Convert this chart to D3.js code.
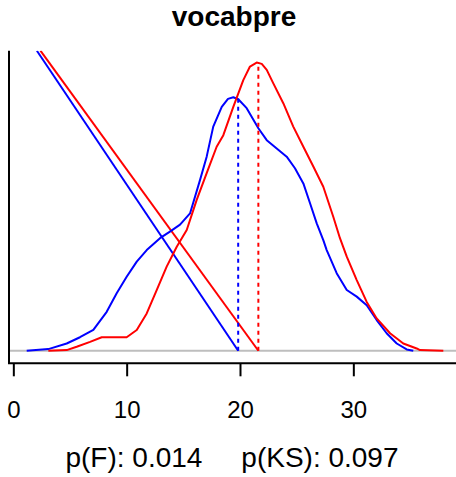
<!DOCTYPE html>
<html>
<head>
<meta charset="utf-8">
<script src="https://cdn.jsdelivr.net/npm/d3@7"></script>
<style>
  html, body { margin: 0; padding: 0; background: #fff; }
  svg { display: block; }
  text { font-family: "Liberation Sans", Arial, Helvetica, sans-serif; }
</style>
</head>
<body>
<svg id="chart" width="456" height="477"></svg>
<script>
// ---- data ----
const title = "vocabpre";
const subtitle = "p(F): 0.014     p(KS): 0.097";
const xTicks = [0, 10, 20, 30];

// density of group 1 (blue): [x, density]
const blueX = [1.18, 3.09, 4.71, 5.88, 7.06, 8.24, 9.12, 10.0, 10.89, 11.77, 12.94, 13.82, 14.71, 15.59, 16.47, 17.06, 17.64, 18.39, 18.94, 19.41, 19.85, 20.59, 21.62, 22.36, 23.24, 24.12, 24.85, 25.59, 26.18, 26.77, 27.35, 27.65, 28.53, 29.42, 30.30, 31.18, 32.06, 32.94, 33.83, 34.71, 35.29];
const blueY = [0, 0.0005, 0.0022, 0.0041, 0.0063, 0.0118, 0.0174, 0.0224, 0.0270, 0.0305, 0.0341, 0.0361, 0.0382, 0.0416, 0.0517, 0.0588, 0.0679, 0.0739, 0.0763, 0.0768, 0.0762, 0.0735, 0.0674, 0.0638, 0.0613, 0.0588, 0.0553, 0.0507, 0.0447, 0.0386, 0.0335, 0.0305, 0.0235, 0.0184, 0.0164, 0.0138, 0.0093, 0.0053, 0.0022, 0.0004, 0];

// density of group 2 (red)
const redX = [3.09, 4.71, 5.59, 6.77, 7.80, 10.0, 10.89, 11.77, 12.65, 13.53, 14.42, 15.30, 16.18, 17.06, 17.94, 18.53, 19.41, 20.29, 20.88, 21.47, 21.92, 22.36, 22.94, 23.82, 24.70, 25.59, 26.47, 27.35, 28.23, 28.82, 29.42, 30.30, 31.18, 32.06, 33.24, 34.41, 35.59, 35.88, 37.94];
const redY = [0, 0.0002, 0.0012, 0.0027, 0.0041, 0.0041, 0.0063, 0.0113, 0.0184, 0.0255, 0.0315, 0.0366, 0.0457, 0.0538, 0.0618, 0.0653, 0.0739, 0.0820, 0.0861, 0.0873, 0.0869, 0.0851, 0.0810, 0.0750, 0.0679, 0.0618, 0.0558, 0.0497, 0.0406, 0.0341, 0.0285, 0.0214, 0.0148, 0.0098, 0.0053, 0.0022, 0.0007, 0.0002, 0];

// marker lines: vertical dotted at location, height = density there
const markX = [19.84, 21.62];
const markY = [0.0766, 0.0873];

// diagonal reference lines: [x at top, y at top] -> [x at zero]
const diagTopX = [2.08, 2.39];
const diagTopY = [0.0909, 0.0909];
const diagEndX = [19.84, 21.62];

const colors = ["#0000ff", "#ff0000"];

// ---- scales ----
const svg = d3.select("#chart");
const x = d3.scaleLinear().domain([0, 30]).range([13.33, 353.33]);
const y = d3.scaleLinear().domain([-0.0038, 0.0909]).range([363.3, 50.7]);

const plotLeft = 9, plotRight = 462, plotTop = y(0.0909), plotBottom = y(-0.0038);

svg.append("defs").append("clipPath").attr("id", "clip")
  .append("rect").attr("x", plotLeft).attr("y", plotTop)
  .attr("width", plotRight - plotLeft).attr("height", plotBottom - plotTop);

const g = svg.append("g").attr("clip-path", "url(#clip)");

// grey baseline
g.append("line")
  .attr("x1", plotLeft).attr("x2", plotRight)
  .attr("y1", y(0)).attr("y2", y(0))
  .attr("stroke", "#bebebe").attr("stroke-width", 2);

const line = d3.line().x(d => x(d[0])).y(d => y(d[1]));

const series = [d3.zip(blueX, blueY), d3.zip(redX, redY)];

// diagonal lines
series.forEach((s, i) => {
  g.append("path")
    .attr("d", line([[diagTopX[i], diagTopY[i]], [diagEndX[i], 0]]))
    .attr("fill", "none").attr("stroke", colors[i]).attr("stroke-width", 2);
});

// density curves
series.forEach((s, i) => {
  g.append("path")
    .attr("d", line(s))
    .attr("fill", "none").attr("stroke", colors[i]).attr("stroke-width", 2)
    .attr("stroke-linejoin", "round");
});

// dotted markers
markX.forEach((mx, i) => {
  g.append("line")
    .attr("x1", x(mx)).attr("x2", x(mx))
    .attr("y1", y(0)).attr("y2", y(markY[i]))
    .attr("stroke", colors[i]).attr("stroke-width", 2)
    .attr("stroke-dasharray", "4,4");
});

// L-shaped box
svg.append("path")
  .attr("d", `M${plotLeft},${plotTop}V${plotBottom}H${plotRight}`)
  .attr("fill", "none").attr("stroke", "#000").attr("stroke-width", 2);

// x axis
const ax = svg.append("g").attr("transform", `translate(0,${plotBottom})`)
  .call(d3.axisBottom(x).tickValues(xTicks).tickSize(13).tickPadding(25).tickFormat(d3.format("d")));
ax.select(".domain").remove();
ax.selectAll(".tick line").attr("stroke", "#000").attr("stroke-width", 2);
ax.selectAll(".tick text").attr("font-size", 24).attr("fill", "#000")
  .attr("font-family", "'Liberation Sans', Arial, sans-serif");

// title
svg.append("text").attr("x", 234).attr("y", 26).attr("text-anchor", "middle")
  .attr("font-size", 28).attr("font-weight", "bold").text(title);

// subtitle
svg.append("text").attr("x", 232).attr("y", 467).attr("text-anchor", "middle")
  .attr("font-size", 28).attr("xml:space", "preserve").style("white-space", "pre").text(subtitle);
</script>
</body>
</html>
